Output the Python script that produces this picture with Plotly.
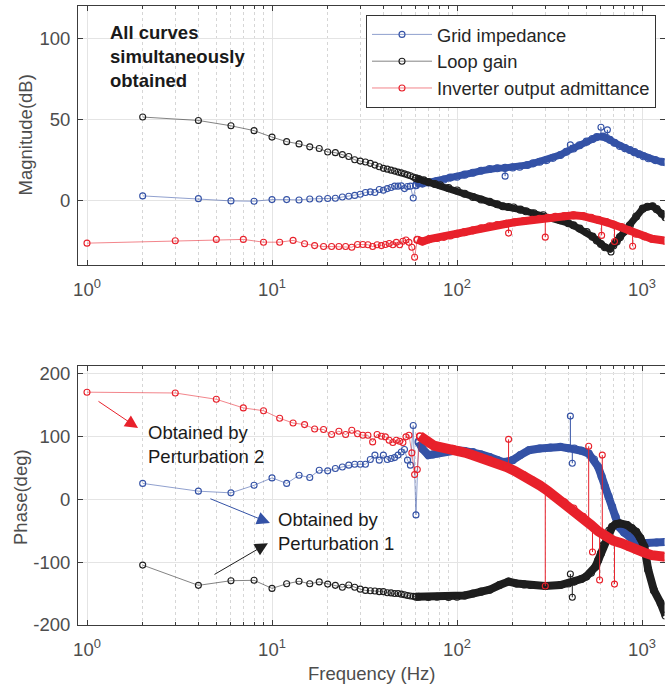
import plotly.graph_objects as go

W, H = 665, 687
FONT = "Liberation Sans"
FS = 18.5

# ---------------- DATA ----------------
# Magnitude (dB) - Grid impedance (blue)
zg_mag_f_sparse = [2, 4, 6, 8, 10, 12, 14, 16, 18, 20, 22, 24, 26, 28, 30, 32, 34, 36, 38, 40,
                   42, 44, 46, 48, 50, 52, 54, 56, 58]
zg_mag_v_sparse = [2.7, 1.0, -0.4, -0.6, 0.4, 0.4, 0.2, 0.8, 0.8, 1.1, 1.2, 2.0, 2.5, 3.0, 3.7, 4.8, 5.2, 4.8, 6.6, 6.2,
                   7.2, 7.9, 8.7, 8.7, 8.9, 7.2, 8.5, 8.7, 1.4]
zg_mag_f_dense = [60, 62, 65, 70, 78, 85, 92, 100, 110, 122, 135, 150, 165, 182, 200, 218, 240, 258, 280, 305,
                  330, 362, 390, 426, 460, 502, 540, 570, 615, 640, 670, 710, 760, 810, 860, 910, 965, 1020,
                  1085, 1180, 1280, 1340]
zg_mag_v_dense = [9.3, 10.5, 10.3, 11.0, 11.8, 12.8, 14.0, 14.5, 15.8, 17.0, 18.2, 19.3, 19.8, 20.0, 20.3, 20.7, 21.8, 22.8, 23.8, 24.8,
                  26.2, 28.0, 30.0, 32.0, 34.0, 36.2, 37.8, 39.0, 39.3, 38.6, 37.3, 35.5, 33.5, 32.2, 31.0, 29.7, 28.4, 27.2,
                  25.9, 24.8, 23.8, 23.5]
zg_mag_spike_f = [182, 410, 600, 650]
zg_mag_spike_base = [20.0, 31.0, 39.2, 38.0]
zg_mag_spike_v = [14.9, 34.2, 45.1, 43.5]

# Magnitude (dB) - Loop gain (black)
lg_mag_f_sparse = [2, 4, 6, 8, 10, 12, 14, 16, 18, 20, 22, 24, 26, 28, 30, 32, 34, 36, 38, 40,
                   42, 44, 46, 48, 50, 52, 54, 56, 58]
lg_mag_v_sparse = [51.4, 49.3, 46.0, 43.0, 39.0, 36.2, 34.8, 33.0, 32.0, 29.8, 29.4, 28.2, 27.0, 25.0, 24.2, 23.6, 22.8, 21.7, 20.7, 19.7,
                   19.2, 18.6, 18.0, 17.4, 16.9, 16.3, 15.7, 15.1, 14.4]
lg_mag_f_dense = [60, 62, 66, 70, 76, 81, 90, 100, 110, 122, 135, 150, 165, 177, 190, 202, 220, 236, 260, 292, 330,
                  362, 400, 426, 460, 502, 540, 570, 600, 630, 670, 700, 730, 760, 800, 860, 930, 1010, 1070,
                  1140, 1200, 1280, 1340]
lg_mag_v_dense = [13.6, 13.1, 12.3, 11.2, 10.0, 9.3, 7.5, 6.0, 4.0, 2.0, 0.5, -1.0, -2.5, -3.7, -4.2, -4.5, -5.8, -6.8, -8.0, -9.3, -11.0,
                  -12.4, -14.2, -15.5, -17.5, -19.7, -22.5, -24.8, -27.0, -29.0, -30.0, -28.0, -25.5, -22.8, -19.5, -15.5, -10.0, -5.2, -4.0,
                  -3.7, -5.5, -8.3, -10.5]
lg_mag_spike_f = [680]
lg_mag_spike_base = [-29.5]
lg_mag_spike_v = [-32.0]

# Magnitude (dB) - Inverter output admittance (red)
yo_mag_f_sparse = [1, 3, 5, 7, 9, 11, 13, 15, 17, 19, 21, 23, 25, 27, 29, 31, 33, 35, 37, 39,
                   41, 43, 45, 47, 49, 51, 53, 55, 57, 59]
yo_mag_v_sparse = [-26.5, -25.0, -24.2, -24.2, -25.9, -25.9, -24.8, -26.9, -28.0, -28.6, -28.6, -28.6, -28.6, -29.0, -27.3, -27.3, -27.5, -28.6, -27.5, -28.0,
                   -27.3, -26.7, -27.5, -26.0, -27.5, -25.3, -24.6, -26.0, -29.0, -35.2]
yo_mag_f_dense = [61, 65, 71, 78, 85, 92, 100, 110, 122, 135, 150, 165, 185, 205, 230, 255, 280, 310, 340, 380,
                  426, 480, 530, 580, 640, 700, 775, 850, 930, 1030, 1130, 1340]
yo_mag_v_dense = [-24.4, -25.5, -24.0, -23.3, -22.6, -21.8, -20.7, -19.7, -18.6, -17.3, -16.1, -15.3, -14.5, -13.6, -12.8, -12.0, -11.4, -10.8, -10.3, -9.8,
                  -9.3, -9.8, -10.8, -12.0, -13.5, -15.0, -16.6, -18.6, -20.7, -22.3, -23.8, -25.0]
yo_mag_spike_f = [190, 300, 605, 710, 890]
yo_mag_spike_base = [-14.3, -11.0, -13.0, -15.0, -19.5]
yo_mag_spike_v = [-20.3, -22.8, -21.7, -25.5, -28.4]

# Phase (deg) - Grid impedance (blue)
zg_ph_f_sparse = [2, 4, 6, 8, 10, 12, 14, 16, 18, 20, 22, 24, 26, 28, 30, 32, 34, 36, 38, 40,
                  42, 44, 46, 48, 50, 52, 54, 56, 58, 60]
zg_ph_v_sparse = [25, 12.7, 10, 22, 33.8, 25, 38, 34.4, 46, 45, 48.7, 51, 54, 55.5, 55.5, 55.5, 63, 70, 62, 70,
                  63, 64.5, 66, 70, 75, 79, 62, 54, 117, -25]
zg_ph_f_dense = [62, 65, 70, 74, 78, 85, 92, 100, 110, 122, 135, 150, 165, 177, 190, 200, 220, 245, 280, 320,
                 362, 400, 430, 470, 515, 550, 580, 605, 630, 660, 690, 720, 750, 800, 860, 930, 1000, 1060,
                 1200, 1340]
zg_ph_v_dense = [91, 80, 70, 71, 72.5, 75, 76.7, 77.8, 76.5, 75, 71, 67, 62, 59, 60, 62, 70, 77.8, 80.5, 82,
                 83, 81, 80.5, 77, 72.5, 63, 51, 36, 19.5, 4, -12, -28, -44, -53, -60, -68, -70, -70,
                 -69, -68]
zg_ph_spike_f = [410, 420]
zg_ph_spike_base = [81, 81]
zg_ph_spike_v = [132, 57]

# Phase (deg) - Loop gain (black)
lg_ph_f_sparse = [2, 4, 6, 8, 10, 12, 14, 16, 18, 20, 22, 24, 26, 28, 30, 32, 34, 36, 38, 40,
                  42, 44, 46, 48, 50, 52, 54, 56, 58]
lg_ph_v_sparse = [-104.8, -137, -129.6, -129, -141.8, -134.5, -130.5, -134.5, -131.5, -135, -137, -140, -136.5, -140, -143, -145, -145.5, -146, -147, -147,
                  -148.7, -149, -150, -150, -151, -152, -153, -154, -154.5]
lg_ph_f_dense = [60, 62, 70, 78, 90, 100, 110, 122, 135, 150, 170, 190, 210, 230, 250, 300, 362, 400, 430, 470, 500,
                 530, 560, 580, 600, 620, 640, 665, 690, 720, 760, 830, 880, 930, 980, 1030, 1080, 1160, 1260,
                 1340]
lg_ph_v_dense = [-155, -155, -155.5, -155, -155.5, -155, -153, -150, -147, -144, -136.5, -131, -134, -135.5, -136.5, -138, -136.5, -134, -131, -127, -123,
                 -117, -107.5, -97, -86, -73, -60, -50, -44, -40, -38.6, -41, -46, -52, -62, -75.7, -112, -145, -165,
                 -185]
lg_ph_spike_f = [410, 420]
lg_ph_spike_base = [-133, -133]
lg_ph_spike_v = [-119, -156]

# Phase (deg) - Inverter output admittance (red)
yo_ph_f_sparse = [1, 3, 5, 7, 9, 11, 13, 15, 17, 19, 21, 23, 25, 27, 29, 31, 33, 35, 37, 39,
                  41, 43, 45, 47, 49, 51, 53, 55, 57, 59, 61]
yo_ph_v_sparse = [170, 168.7, 158.7, 145, 140.5, 128.5, 121, 118.5, 111.5, 110.6, 102.7, 108, 102.7, 109.5, 104, 101.6, 101.6, 91, 102.7, 100,
                  99, 93.6, 90, 93.6, 92, 90, 99, 101.6, 73.5, 39, 47]
yo_ph_f_dense = [63, 67, 71, 75, 80, 88, 95, 100, 110, 122, 135, 150, 165, 185, 205, 230, 255, 280, 310, 340,
                 380, 426, 480, 530, 580, 640, 700, 775, 850, 930, 1030, 1130, 1340]
yo_ph_v_dense = [100, 93.6, 88, 85, 83, 81, 80, 77.8, 74, 69.8, 66, 62, 57, 51, 45, 38, 30, 22, 13, 3.7,
                 -5, -14.8, -28, -41, -51, -60, -66, -70, -76, -81, -85, -89, -91.6]
yo_ph_spike_f = [190, 300, 515, 540, 590, 610, 710]
yo_ph_spike_base = [53, 18, -37, -42, -51, -55, -67]
yo_ph_spike_v = [95, -138, 84, -84, -128.6, 70, -135]

# Tick labels
x_tickvals = [1, 10, 100, 1000]
x_ticktext = ["10<sup>0</sup>", "10<sup>1</sup>", "10<sup>2</sup>", "10<sup>3</sup>"]
mag_tickvals = [0, 50, 100]
mag_ticktext = ["0", "50", "100"]
ph_tickvals = [-200, -100, 0, 100, 200]
ph_ticktext = ["-200", "-100", "0", "100", "200"]
series_names = ["Grid impedance", "Loop gain", "Inverter output admittance"]

# ---------------- STYLE ----------------
BLUE = "#3452A6"
BLACK = "#1E1E1E"
RED = "#E8212B"
BLUE_A = "rgba(52,82,166,0.55)"
BLACK_A = "rgba(30,30,30,0.55)"
RED_A = "rgba(232,33,43,0.55)"

fig = go.Figure()


def add_series(xa, ya, fs, vs, fd, vd, sf, sb, sv, color, color_a, name, legend, band):
    mk = dict(symbol="circle-open", size=6, color=color, line=dict(width=1.1, color=color))
    # dense part, overlapping markers -> thick band
    fig.add_trace(go.Scatter(
        x=fd, y=vd, mode="lines+markers", showlegend=False, legendgroup=name,
        line=dict(color=color, width=band), marker=dict(mk, size=7),
        xaxis=xa, yaxis=ya, hoverinfo="skip"))
    # sparse part, thin translucent line with open circles
    fig.add_trace(go.Scatter(
        x=fs + [fd[0]], y=vs + [vd[0]], mode="lines+markers", name=name, showlegend=legend,
        legendgroup=name, line=dict(color=color_a, width=1), marker=mk,
        xaxis=xa, yaxis=ya))
    # isolated spikes
    sx, sy = [], []
    for f, b, v in zip(sf, sb, sv):
        sx += [f, f, None]
        sy += [b, v, None]
    fig.add_trace(go.Scatter(
        x=sx, y=sy, mode="lines", showlegend=False, legendgroup=name,
        line=dict(color=color, width=1), xaxis=xa, yaxis=ya, hoverinfo="skip"))
    fig.add_trace(go.Scatter(
        x=sf, y=sv, mode="markers", showlegend=False, legendgroup=name,
        marker=mk, xaxis=xa, yaxis=ya))


# Magnitude subplot
add_series("x", "y", zg_mag_f_sparse, zg_mag_v_sparse, zg_mag_f_dense, zg_mag_v_dense,
           zg_mag_spike_f, zg_mag_spike_base, zg_mag_spike_v, BLUE, BLUE_A, series_names[0], True, 7)
add_series("x", "y", lg_mag_f_sparse, lg_mag_v_sparse, lg_mag_f_dense, lg_mag_v_dense,
           lg_mag_spike_f, lg_mag_spike_base, lg_mag_spike_v, BLACK, BLACK_A, series_names[1], True, 7)
add_series("x", "y", yo_mag_f_sparse, yo_mag_v_sparse, yo_mag_f_dense, yo_mag_v_dense,
           yo_mag_spike_f, yo_mag_spike_base, yo_mag_spike_v, RED, RED_A, series_names[2], True, 8)
# Phase subplot
add_series("x2", "y2", zg_ph_f_sparse, zg_ph_v_sparse, zg_ph_f_dense, zg_ph_v_dense,
           zg_ph_spike_f, zg_ph_spike_base, zg_ph_spike_v, BLUE, BLUE_A, series_names[0], False, 8)
add_series("x2", "y2", lg_ph_f_sparse, lg_ph_v_sparse, lg_ph_f_dense, lg_ph_v_dense,
           lg_ph_spike_f, lg_ph_spike_base, lg_ph_spike_v, BLACK, BLACK_A, series_names[1], False, 8)
add_series("x2", "y2", yo_ph_f_sparse, yo_ph_v_sparse, yo_ph_f_dense, yo_ph_v_dense,
           yo_ph_spike_f, yo_ph_spike_base, yo_ph_spike_v, RED, RED_A, series_names[2], False, 10)

# ---------------- LAYOUT ----------------
XL = (78 - 87) / 185.0
XR = (664.5 - 87) / 185.0
x_dom = [78 / W, 664.5 / W]
top_dom = [1 - 265 / H, 1 - 6 / H]
bot_dom = [1 - 625 / H, 1 - 366 / H]
minor_vals = [m * 10 ** d for d in range(0, 4) for m in range(2, 10)]

AX_COL = "#3C3C3C"
TICK_COL = "#4D4D4D"


def xaxis(anchor):
    return dict(type="log", range=[XL, XR], domain=x_dom, anchor=anchor,
                tickmode="array", tickvals=x_tickvals, ticktext=x_ticktext,
                showgrid=True, gridcolor="#E4E4E4", gridwidth=1,
                ticks="inside", ticklen=5, tickcolor=AX_COL, tickwidth=1,
                showline=True, linecolor=AX_COL, linewidth=1, mirror="ticks",
                zeroline=False, tickfont=dict(family=FONT, size=FS, color=TICK_COL),
                ticklabelstandoff=8,
                minor=dict(tickmode="array", tickvals=minor_vals, showgrid=True, gridcolor="#D6D6D6",
                           griddash="dot", gridwidth=1, ticks="inside", ticklen=3, tickcolor=AX_COL),
                automargin=False)


def yaxis(dom, rng, tv, tt, anchor):
    return dict(domain=dom, range=rng, anchor=anchor, tickmode="array", tickvals=tv, ticktext=tt,
                showgrid=True, gridcolor="#E4E4E4", gridwidth=1,
                ticks="inside", ticklen=5, tickcolor=AX_COL, tickwidth=1,
                showline=True, linecolor=AX_COL, linewidth=1, mirror="ticks",
                zeroline=False, tickfont=dict(family=FONT, size=FS, color=TICK_COL),
                ticklabelstandoff=3, automargin=False)


fig.update_layout(
    width=W, height=H,
    margin=dict(l=0, r=0, t=0, b=0),
    paper_bgcolor="white", plot_bgcolor="white",
    font=dict(family=FONT, size=FS, color="#262626"),
    xaxis=xaxis("y"),
    yaxis=yaxis(top_dom, [-40, 120], mag_tickvals, mag_ticktext, "x"),
    xaxis2=xaxis("y2"),
    yaxis2=yaxis(bot_dom, [-200, 211.6], ph_tickvals, ph_ticktext, "x2"),
    legend=dict(x=656 / W, y=1 - 15 / H, xanchor="right", yanchor="top",
                bgcolor="white", bordercolor="#333333", borderwidth=1,
                font=dict(family=FONT, size=18.3, color="#262626"),
                itemwidth=60, tracegroupgap=0),
    showlegend=True,
)

ann = []
# axis titles
ann.append(dict(text="Magnitude(dB)", xref="paper", yref="paper", x=25 / W, y=1 - 135.5 / H,
                xanchor="center", yanchor="middle",
                textangle=-90, showarrow=False, font=dict(family=FONT, size=FS, color=TICK_COL)))
ann.append(dict(text="Phase(deg)", xref="paper", yref="paper", x=20 / W, y=1 - 497 / H,
                xanchor="center", yanchor="middle",
                textangle=-90, showarrow=False, font=dict(family=FONT, size=FS, color=TICK_COL)))
ann.append(dict(text="Frequency (Hz)", xref="paper", yref="paper", x=371 / W, y=1 - 673 / H,
                xanchor="center", yanchor="middle",
                showarrow=False, font=dict(family=FONT, size=FS, color=TICK_COL)))
# texts
ann.append(dict(text="<b>All curves<br>simultaneously<br>obtained</b>", xref="x", yref="y",
                x=0.1135, y=88.8, xanchor="left", yanchor="middle", align="left", showarrow=False,
                font=dict(family=FONT, size=FS, color="#1A1A1A")))
ann.append(dict(text="Obtained by<br>Perturbation 2", xref="x2", yref="y2",
                x=0.318, y=87, xanchor="left", yanchor="middle", align="left", showarrow=False,
                font=dict(family=FONT, size=FS, color="#1A1A1A")))
ann.append(dict(text="Obtained by<br>Perturbation 1", xref="x2", yref="y2",
                x=1.022, y=-51.5, xanchor="left", yanchor="middle", align="left", showarrow=False,
                font=dict(family=FONT, size=FS, color="#1A1A1A")))
# arrows
for tip, tail, col in [((0.276, 113), (0.054, 157), RED),
                       ((0.989, -38), (0.659, 1.6), BLUE),
                       ((0.978, -70), (0.681, -121), BLACK)]:
    ann.append(dict(text="", xref="x2", yref="y2", axref="x2", ayref="y2",
                    x=tip[0], y=tip[1], ax=tail[0], ay=tail[1], showarrow=True,
                    arrowhead=2, arrowsize=2.6, arrowwidth=1, arrowcolor=col, standoff=0))
fig.update_layout(annotations=ann)

fig.write_html("out.html", config={"displayModeBar": False},
               post_script="document.body.style.margin='0px';")
